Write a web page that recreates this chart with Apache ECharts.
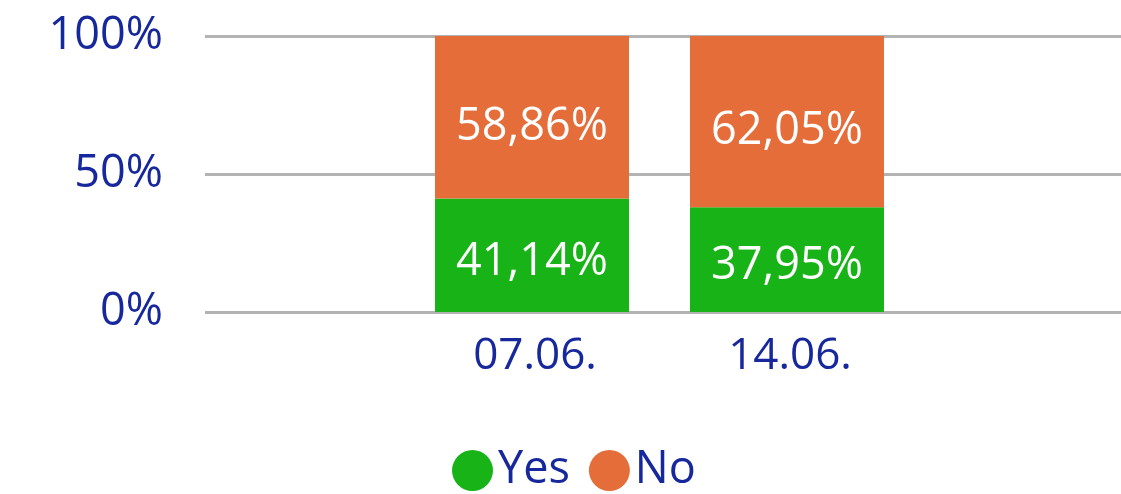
<!DOCTYPE html>
<html>
<head>
<meta charset="utf-8">
<script src="https://cdn.jsdelivr.net/npm/echarts@6/dist/echarts.min.js"></script>
<style>
  html, body { margin: 0; padding: 0; background: #fff; }
  #chart { width: 1121px; height: 494px; }
</style>
</head>
<body>
<div id="chart"></div>
<script>
// data
var categories = ['07.06.', '14.06.'];
var yesValues = [41.14, 37.95];
var noValues = [58.86, 62.05];
var seriesNames = ['Yes', 'No'];
var yTicks = [0, 50, 100];

var blue = '#16289C';
var font = '"Open Sans", "Noto Sans", sans-serif';

function pct(p) {
  return p.value.toFixed(2).replace('.', ',') + '%';
}

var chart = echarts.init(document.getElementById('chart'));

var option = {
  animation: false,
  textStyle: { fontFamily: font },
  legend: {
    data: seriesNames,
    left: 452,
    top: 448,
    padding: 0,
    icon: 'circle',
    itemWidth: 41,
    itemHeight: 41,
    itemGap: 19,
    textStyle: { color: blue, fontSize: 45, fontFamily: font }
  },
  grid: [
    { left: 205, right: 0, top: 36, bottom: 182 },
    { left: 404.5, width: 510, top: 36, bottom: 182 }
  ],
  xAxis: [
    { type: 'category', gridIndex: 0, data: [''], show: false },
    {
      type: 'category', gridIndex: 1, data: categories,
      axisLine: { show: false }, axisTick: { show: false },
      axisLabel: { color: blue, fontSize: 44, fontFamily: font, margin: 22, padding: [0, 0, 0, 6] }
    }
  ],
  yAxis: [
    {
      type: 'value', gridIndex: 0, min: yTicks[0], max: yTicks[yTicks.length - 1], interval: 50,
      axisLine: { show: false }, axisTick: { show: false },
      axisLabel: { color: blue, fontSize: 45, fontFamily: font, margin: 42, formatter: '{value}%' },
      splitLine: { lineStyle: { color: '#B3B3B3', width: 3 } }
    },
    {
      type: 'value', gridIndex: 1, min: 0, max: 100, show: false,
      splitLine: { show: false }
    }
  ],
  series: [
    {
      name: seriesNames[0], type: 'bar', stack: 'total',
      xAxisIndex: 1, yAxisIndex: 1, barWidth: 194,
      itemStyle: { color: '#17B317' },
      label: { show: true, position: 'inside', color: '#fff', fontSize: 45, fontFamily: font, offset: [0, 7], formatter: pct },
      data: yesValues
    },
    {
      name: seriesNames[1], type: 'bar', stack: 'total',
      xAxisIndex: 1, yAxisIndex: 1, barWidth: 194,
      itemStyle: { color: '#E46D3A' },
      label: { show: true, position: 'inside', color: '#fff', fontSize: 45, fontFamily: font, offset: [0, 10], formatter: pct },
      data: noValues
    }
  ]
};

chart.setOption(option);
</script>
</body>
</html>
